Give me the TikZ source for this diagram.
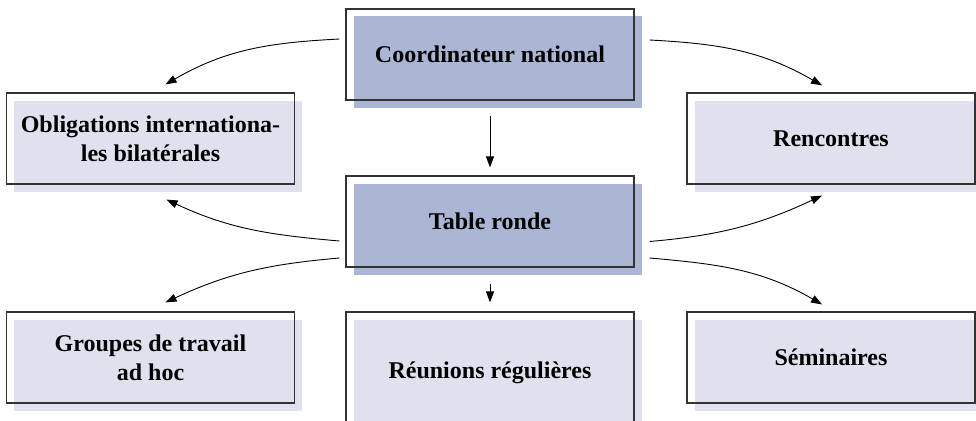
\documentclass[tikz,border=0pt]{standalone}
\usepackage{fontspec}
\setmainfont{Liberation Serif}
\usetikzlibrary{arrows.meta,shadows}
\definecolor{bluedark}{RGB}{171,182,212}
\definecolor{bluelight}{RGB}{223,226,238}

\begin{document}
\begin{tikzpicture}[x=1pt,y=-1pt,
  box/.style = {draw=black!80, line width=1.2pt, minimum width=288pt, minimum height=91pt, align=center, inner sep=0pt, font=\fontsize{24}{29}\selectfont\bfseries},
  lead/.style = {box, drop shadow={shadow xshift=7.5pt, shadow yshift=-7.5pt, fill=bluedark, opacity=1}},
  side/.style = {box, drop shadow={shadow xshift=7.5pt, shadow yshift=-7.5pt, fill=bluelight, opacity=1}},
  link/.style = {-{Triangle[length=11pt,width=8pt]}, line width=0.9pt}]

\useasboundingbox (0,0) rectangle (976,420);

\node[lead] (coord) at (490,54.5) {Coordinateur national};
\node[lead] (ronde) at (490,221.5) {Table ronde};
\node[side] (oblig) at (150.5,138.5) {Obligations internationa-\\les bilatérales};
\node[side] (renc) at (831,138.5) {Rencontres};
\node[side] (groupes) at (150.5,357.5) {Groupes de travail\\ad hoc};
\node[side] (semin) at (831,357.5) {Séminaires};
\node[side, minimum height=122pt] (reun) at (490,373) {Réunions régulières};


\draw[link] ([xshift=-6pt,yshift=15.5pt]coord.west) to[out=183,in=30] ([xshift=15pt,yshift=8pt]oblig.north);
\draw[link] ([xshift=15pt,yshift=14.5pt]coord.east) to[out=-3,in=150] ([xshift=-9pt,yshift=7pt]renc.north);
\draw[link, shorten <=15pt, shorten >=8pt] (coord) -- (ronde);

\draw[link] ([xshift=-6pt,yshift=-19.5pt]ronde.west) to[out=175,in=-25] ([xshift=16pt,yshift=-15pt]oblig.south);
\draw[link] ([xshift=-6pt,yshift=-36.5pt]ronde.west) to[out=185,in=25] ([xshift=15pt,yshift=9pt]groupes.north);
\draw[link] ([xshift=15pt,yshift=-20pt]ronde.east) to[out=5,in=205] ([xshift=-9pt,yshift=-11pt]renc.south);
\draw[link] ([xshift=15pt,yshift=-36.5pt]ronde.east) to[out=-5,in=150] ([xshift=-9pt,yshift=7pt]semin.north);
\draw[link, shorten <=16pt, shorten >=9pt] (ronde) -- (reun);

\end{tikzpicture}
\end{document}
